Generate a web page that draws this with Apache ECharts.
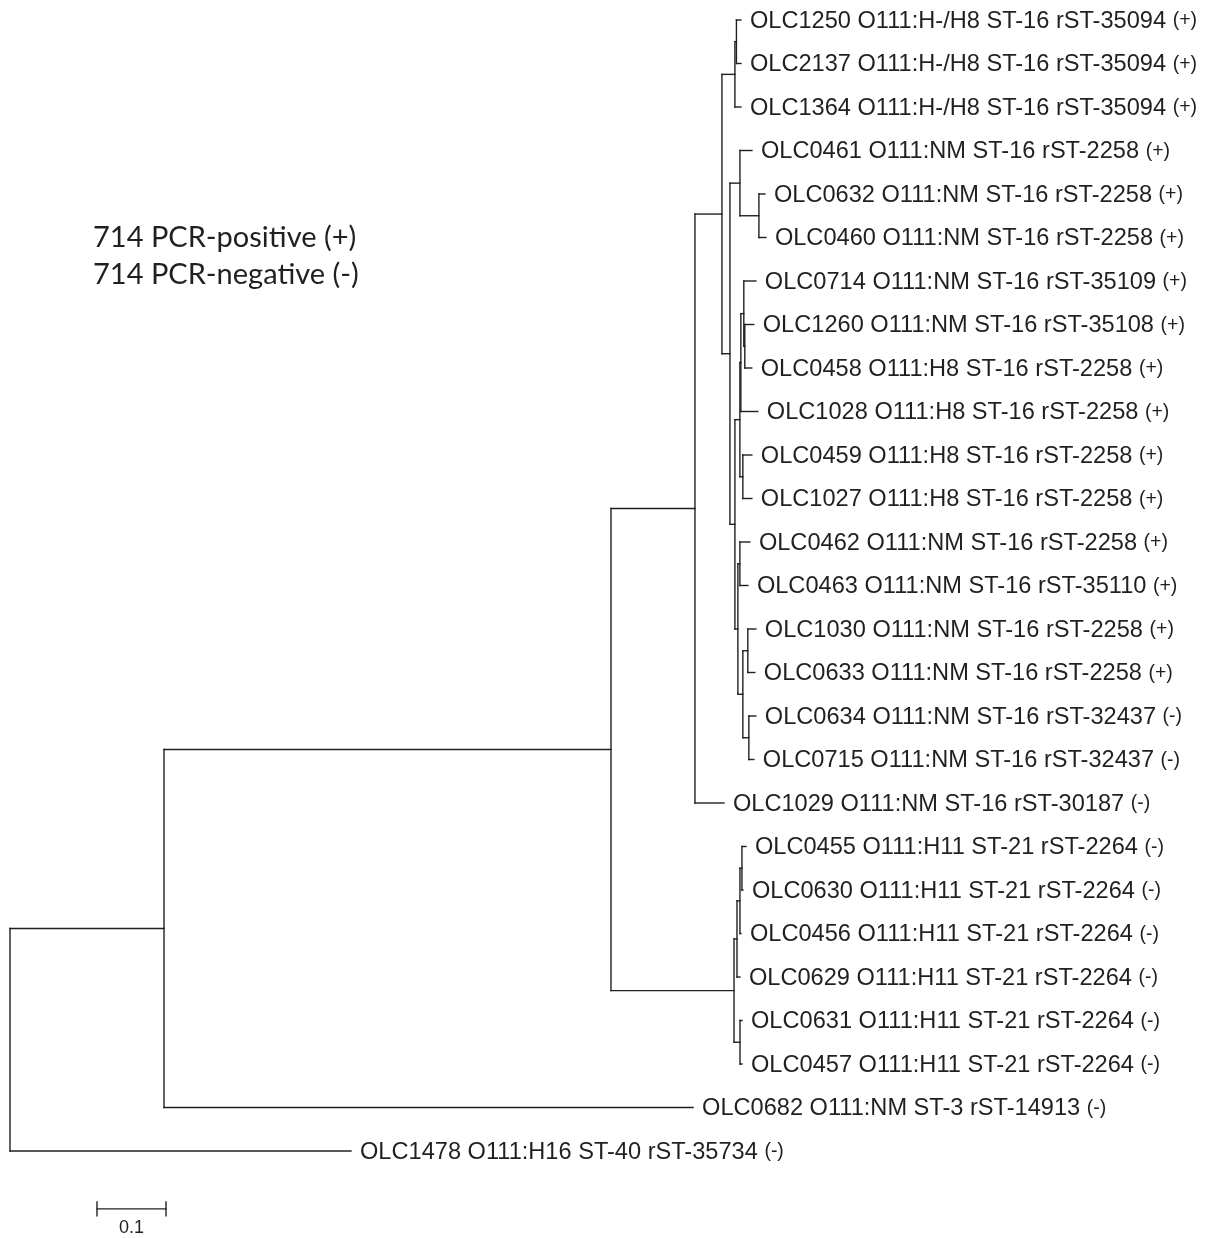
<!DOCTYPE html>
<html><head><meta charset="utf-8">
<script src="https://cdn.jsdelivr.net/npm/echarts@6/dist/echarts.min.js"></script>
<style>html,body{margin:0;padding:0;background:#fff}#c{width:1212px;height:1238px}</style>
</head><body><div id="c"></div>
<script>
// Tree topology: node ids, their parents and branch lengths (substitutions/site)
const nodeIds = ['root','n164','n611','n695','n722','n735','n736','OLC1250','OLC2137','OLC1364',
  'n730','n740a','OLC0461','n759','OLC0632','OLC0460','nZ','nW','nC','nB','OLC0714','nA','OLC1260','OLC0458',
  'OLC1028','n743','OLC0459','OLC1027','nY','n740c','OLC0462','OLC0463','nX','n748','OLC1030','OLC0633',
  'n749','OLC0634','OLC0715','OLC1029','n21','nA3','nA2','nA1','OLC0455','OLC0630','OLC0456','OLC0629',
  'nB21','OLC0631','OLC0457','OLC0682','OLC1478'];
const parentIds = ['','root','n164','n611','n695','n722','n735','n736','n736','n735',
  'n722','n730','n740a','n740a','n759','n759','n730','nZ','nW','nC','nB','nB','nA','nA',
  'nC','nW','n743','n743','nZ','nY','n740c','n740c','nY','nX','n748','n748',
  'nX','n749','n749','n695','n611','n21','nA3','nA2','nA1','nA1','nA2','nA3',
  'n21','nB21','nB21','n164','root'];
const branchLengths = [0,0.2232,0.6478,0.1217,0.0391,0.0188,0.0022,0.0065,0.0065,0.0087,
  0.0116,0.0145,0.0174,0.0275,0.0087,0.0101,0.0072,0.0072,0.0014,0.0043,0.0174,0.0014,0.0130,0.0101,
  0.0246,0.0043,0.0130,0.0130,0.0043,0.0029,0.0145,0.0116,0.0072,0.0072,0.0116,0.0101,
  0.0087,0.0101,0.0072,0.0420,0.1783,0.0043,0.0043,0.0029,0.0058,0.0014,0.0014,0.0043,
  0.0087,0.0029,0.0029,0.7667,0.4942];

// Tip labels
const tipIds = ['OLC1250','OLC2137','OLC1364','OLC0461','OLC0632','OLC0460','OLC0714','OLC1260','OLC0458',
  'OLC1028','OLC0459','OLC1027','OLC0462','OLC0463','OLC1030','OLC0633','OLC0634','OLC0715','OLC1029',
  'OLC0455','OLC0630','OLC0456','OLC0629','OLC0631','OLC0457','OLC0682','OLC1478'];
const tipDescriptions = [
  'OLC1250 O111:H-/H8 ST-16 rST-35094','OLC2137 O111:H-/H8 ST-16 rST-35094','OLC1364 O111:H-/H8 ST-16 rST-35094',
  'OLC0461 O111:NM ST-16 rST-2258','OLC0632 O111:NM ST-16 rST-2258','OLC0460 O111:NM ST-16 rST-2258',
  'OLC0714 O111:NM ST-16 rST-35109','OLC1260 O111:NM ST-16 rST-35108','OLC0458 O111:H8 ST-16 rST-2258',
  'OLC1028 O111:H8 ST-16 rST-2258','OLC0459 O111:H8 ST-16 rST-2258','OLC1027 O111:H8 ST-16 rST-2258',
  'OLC0462 O111:NM ST-16 rST-2258','OLC0463 O111:NM ST-16 rST-35110','OLC1030 O111:NM ST-16 rST-2258',
  'OLC0633 O111:NM ST-16 rST-2258','OLC0634 O111:NM ST-16 rST-32437','OLC0715 O111:NM ST-16 rST-32437',
  'OLC1029 O111:NM ST-16 rST-30187','OLC0455 O111:H11 ST-21 rST-2264','OLC0630 O111:H11 ST-21 rST-2264',
  'OLC0456 O111:H11 ST-21 rST-2264','OLC0629 O111:H11 ST-21 rST-2264','OLC0631 O111:H11 ST-21 rST-2264',
  'OLC0457 O111:H11 ST-21 rST-2264','OLC0682 O111:NM ST-3 rST-14913','OLC1478 O111:H16 ST-40 rST-35734'];
const tipPcr = ['+','+','+','+','+','+','+','+','+','+','+','+','+','+','+','+','-','-','-',
  '-','-','-','-','-','-','-','-'];

const scaleBarLength = [0.1];
const scaleBarLabel = ['0.1'];
const noteLines = ['714 PCR-positive (+)', '714 PCR-negative (-)'];

// ---- layout from the tree data ----
const children = {};
nodeIds.forEach(id => { children[id] = []; });
nodeIds.forEach((id, i) => { if (parentIds[i]) children[parentIds[i]].push(id); });
const depth = {}, ypos = {};
let tipCounter = 0;
function walk(id, d) {
  depth[id] = d;
  const ch = children[id];
  if (!ch.length) { ypos[id] = tipCounter++; return; }
  ch.forEach(c => walk(c, d + branchLengths[nodeIds.indexOf(c)]));
  ypos[id] = (ypos[ch[0]] + ypos[ch[ch.length - 1]]) / 2;
}
walk('root', 0);
const treeData = nodeIds.map((id, i) => {
  const p = parentIds[i];
  const ch = children[id];
  const isTip = ch.length === 0;
  return [p ? depth[p] : depth[id], depth[id], ypos[id],
    isTip ? ypos[id] : ypos[ch[0]], isTip ? ypos[id] : ypos[ch[ch.length - 1]],
    isTip ? tipIds.indexOf(id) : -1];
});

const INK = '#231f20';
const FONT = '"Liberation Sans", Arial, sans-serif';
const lineStyle = { stroke: INK, lineWidth: 1.4, lineCap: 'square' };

function renderNode(params, api) {
  const xp = api.value(0), x = api.value(1), y = api.value(2);
  const yt = api.value(3), yb = api.value(4), tip = api.value(5);
  const a = api.coord([xp, y]), b = api.coord([x, y]);
  const els = [];
  if (b[0] - a[0] > 0.01) {
    els.push({ type: 'line', shape: { x1: a[0], y1: a[1], x2: b[0], y2: b[1] }, style: lineStyle });
  }
  if (tip < 0) {
    const t = api.coord([x, yt]), u = api.coord([x, yb]);
    els.push({ type: 'line', shape: { x1: t[0], y1: t[1], x2: u[0], y2: u[1] }, style: lineStyle });
  } else {
    els.push({ type: 'text', style: {
      x: b[0] + 9, y: b[1] + 1,
      text: '{m|' + tipDescriptions[tip] + '} {s|(' + tipPcr[tip] + ')}',
      align: 'left', verticalAlign: 'middle',
      fill: INK, fontFamily: FONT, fontSize: 23.6,
      rich: {
        m: { fontSize: 23.6, fontFamily: FONT, fill: INK },
        s: { fontSize: 19.5, fontFamily: FONT, fill: INK }
      }
    } });
  }
  return { type: 'group', children: els };
}

function renderScale(params, api) {
  const x = api.value(0), y = api.value(1), len = api.value(2);
  const a = api.coord([x, y]), b = api.coord([x + len, y]);
  return { type: 'group', children: [
    { type: 'line', shape: { x1: a[0], y1: a[1], x2: b[0], y2: b[1] }, style: lineStyle },
    { type: 'line', shape: { x1: a[0], y1: a[1] - 7, x2: a[0], y2: a[1] + 7 }, style: lineStyle },
    { type: 'line', shape: { x1: b[0], y1: b[1] - 7, x2: b[0], y2: b[1] + 7 }, style: lineStyle },
    { type: 'text', style: { x: (a[0] + b[0]) / 2, y: a[1] + 19, text: scaleBarLabel[0],
      align: 'center', verticalAlign: 'middle', fill: INK, fontFamily: FONT, fontSize: 18 } }
  ] };
}

const chart = echarts.init(document.getElementById('c'), null, { renderer: 'canvas' });
chart.setOption({
  animation: false,
  backgroundColor: '#ffffff',
  grid: { left: 10, top: 20, width: 1173, height: 1219.1 },
  xAxis: { type: 'value', min: 0, max: 1.7, show: false },
  yAxis: { type: 'value', min: 0, max: 28, inverse: true, show: false },
  graphic: noteLines.map((t, i) => ({
    type: 'text', left: 93, top: 223 + i * 37,
    style: { text: t, fill: INK, fontFamily: 'Lato', fontSize: 29 }
  })),
  series: [
    { type: 'custom', clip: false, renderItem: renderNode, data: treeData,
      encode: { x: [0, 1], y: [2, 3, 4] }, silent: true },
    { type: 'custom', clip: false, renderItem: renderScale,
      data: [[0.1261, 27.33, scaleBarLength[0]]], encode: { x: 0, y: 1 }, silent: true }
  ]
});
</script>
</body></html>
